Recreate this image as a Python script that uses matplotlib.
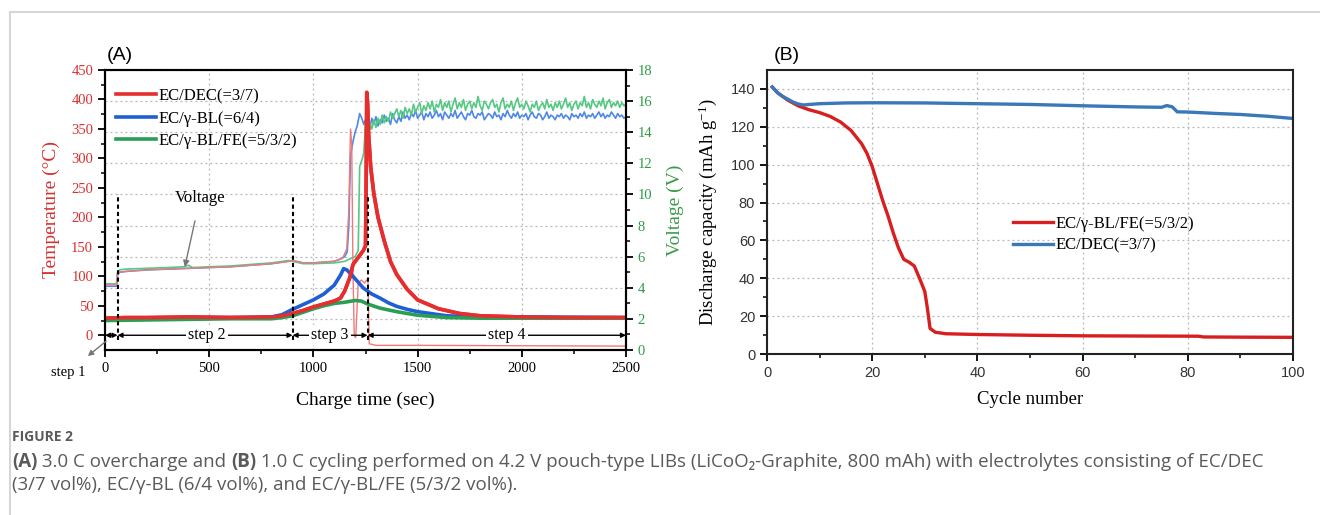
import matplotlib
matplotlib.use('Agg')
import matplotlib.pyplot as plt
from matplotlib.lines import Line2D
from matplotlib.ticker import MultipleLocator, FixedLocator

# ---- (A) overcharge: temperature (thick) and voltage (thin) vs charge time ----
t_red = [0, 100, 200, 400, 600, 800, 850, 900, 950, 1000, 1050, 1100, 1130, 1150,
         1175, 1190, 1215, 1240, 1250, 1253, 1256, 1260, 1265, 1275, 1290, 1310,
         1340, 1370, 1400, 1450, 1500, 1600, 1700, 1800, 2000, 2200, 2500]
temp_red = [29, 30, 30, 31, 30, 31, 33, 37, 42, 48, 53, 58, 63, 75,
            98, 120, 132, 144, 152, 250, 412, 395, 340, 285, 240, 200,
            160, 125, 103, 78, 60, 45, 37, 33, 31, 30, 30]

t_blue = [0, 200, 400, 600, 700, 800, 850, 900, 950, 1000, 1050, 1100, 1130, 1145,
          1160, 1180, 1200, 1240, 1280, 1320, 1360, 1400, 1450, 1500, 1640, 1800,
          2000, 2500]
temp_blue = [28, 29, 30, 30, 30, 31, 35, 44, 52, 60, 70, 85, 102, 113,
             111, 104, 96, 80, 70, 63, 55, 49, 44, 40, 33, 31,
             31, 30]

t_green = [0, 200, 400, 600, 800, 850, 900, 950, 1000, 1050, 1100, 1150, 1200,
           1230, 1260, 1320, 1400, 1500, 1640, 1800, 2500]
temp_green = [25, 26, 27, 28, 28, 30, 33, 39, 45, 50, 54, 56, 59,
              58, 53, 46, 40, 34, 30, 29, 29]

tv_red = [0, 55, 60, 70, 100, 200, 300, 400, 500, 600, 700, 800, 880, 900, 950,
          1000, 1100, 1140, 1160, 1170, 1178, 1184, 1190, 1196, 1203, 1215, 1230,
          1245, 1255, 1262, 1268, 1300, 1500, 2500]
volt_red = [4.2, 4.2, 4.9, 5.0, 5.05, 5.15, 5.2, 5.25, 5.3, 5.35, 5.45, 5.55, 5.7,
            5.75, 5.6, 5.6, 5.7, 5.9, 6.5, 9.0, 14.2, 13.2, 5.0, 0.9, 0.8, 4.3, 4.5,
            4.3, 4.5, 4.4, 0.4, 0.3, 0.3, 0.25]

tv_blue = [0, 55, 60, 70, 100, 200, 300, 400, 500, 600, 700, 800, 880, 900, 950,
           1000, 1050, 1100, 1130, 1150, 1162, 1170, 1178, 1190, 1200, 1210, 1222,
           1232, 1242, 1250]
volt_blue = [4.1, 4.1, 4.8, 5.0, 5.05, 5.15, 5.2, 5.25, 5.3, 5.35, 5.45, 5.55,
             5.7, 5.75, 5.6, 5.6, 5.65, 5.7, 5.85, 6.0, 6.3, 8.0, 12.5, 13.4, 14.0,
             14.4, 15.2, 14.9, 14.5, 14.8]

tv_green = [0, 55, 60, 70, 100, 200, 300, 380, 400, 420, 500, 600, 700, 800, 880,
            900, 950, 1000, 1100, 1150, 1200, 1215, 1222, 1235, 1242, 1250]
volt_green = [4.25, 4.25, 5.0, 5.15, 5.2, 5.25, 5.3, 5.35, 5.45, 5.3, 5.35, 5.4,
              5.5, 5.6, 5.75, 5.7, 5.55, 5.55, 5.6, 5.7, 6.0, 6.4, 11.8, 12.3,
              12.7, 14.5]

# voltage plateau after 1260 s, read every 10 s
volt_blue_tail = [
    14.6, 14.2, 14.9, 14.5, 15.0, 14.4, 14.8, 14.6, 15.1, 14.7,
    14.9, 14.5, 15.2, 14.8, 14.6, 15.0, 14.7, 15.3, 14.9, 15.1,
    14.8, 15.2, 15.0, 15.4, 14.9, 15.1, 15.3, 14.8, 15.2, 15.0,
    15.3, 14.9, 15.1, 15.4, 15.0, 15.2, 14.8, 15.3, 15.1, 14.9,
    15.2, 15.0, 15.4, 14.9, 15.1, 15.3, 15.0, 14.8, 15.2, 15.1,
    15.4, 15.0, 14.9, 15.2, 15.1, 15.3, 14.8, 15.0, 15.2, 15.1,
    14.9, 15.3, 15.0, 15.1, 14.8, 15.2, 15.0, 15.4, 15.1, 14.9,
    15.2, 15.0, 15.3, 14.9, 15.1, 15.0, 15.2, 14.8, 15.1, 15.3,
    15.0, 14.9, 15.2, 15.1, 14.8, 15.0, 15.3, 14.9, 15.1, 15.0,
    14.8, 15.1, 15.0, 15.2, 14.9, 15.1, 15.0, 14.8, 15.2, 15.0,
    15.1, 14.9, 15.2, 15.0, 15.3, 14.9, 15.1, 15.0, 15.2, 14.9,
    15.1, 15.3, 15.0, 15.2, 14.9, 15.1, 15.0, 15.3, 15.1, 14.9,
    15.2, 15.0, 15.1, 14.9, 15.0]
volt_green_tail = [
    14.0, 14.6, 14.2, 14.8, 14.3, 14.9, 14.5, 15.1, 14.6, 15.0,
    14.7, 15.3, 14.9, 15.2, 15.5, 15.0, 15.4, 14.9, 15.6, 15.2,
    15.5, 15.1, 15.8, 15.3, 15.6, 15.9, 15.2, 15.7, 15.4, 15.9,
    15.5, 16.0, 15.3, 15.8, 15.6, 16.1, 15.4, 15.9, 15.6, 16.0,
    15.3, 15.8, 16.2, 15.5, 15.9, 15.6, 16.1, 15.4, 15.8, 16.0,
    15.5, 15.9, 15.6, 16.3, 15.7, 15.4, 16.0, 15.8, 15.5, 15.9,
    16.1, 15.6, 15.8, 15.3, 15.9, 16.2, 15.5, 15.8, 15.6, 16.0,
    15.4, 15.9, 16.2, 15.6, 15.8, 15.5, 16.0, 15.7, 15.3, 15.8,
    15.6, 16.0, 15.4, 15.7, 15.9, 15.5, 16.1, 15.6, 15.8, 15.4,
    15.9, 15.6, 16.0, 15.5, 15.8, 16.2, 15.6, 15.9, 15.4, 15.8,
    16.0, 15.5, 15.9, 15.7, 16.3, 15.6, 15.9, 15.5, 16.1, 15.8,
    15.6, 16.0, 15.7, 16.2, 15.5, 15.9, 16.1, 15.6, 15.9, 15.7,
    16.0, 15.6, 15.9, 15.7, 15.8]
t_tail = list(range(1260, 2501, 10))

labels_a = ['EC/DEC(=3/7)', 'EC/\u03b3-BL(=6/4)', 'EC/\u03b3-BL/FE(=5/3/2)']
step_bounds = [0, 60, 900, 1260, 2500]
step_names = ['', 'step 2', 'step 3', 'step 4']
step_label_x = [None, 488, 1080, 1928]

# ---- (B) cycling ----
cyc_red = [1, 2, 3, 4, 5, 6, 7, 8, 10, 12, 14, 16, 18, 19, 20, 21, 22, 23, 24, 25,
           26, 27, 28, 29, 30, 30.5, 31, 32, 34, 40, 50, 60, 70, 82, 83, 90, 100]
cap_red = [141, 138, 136, 134, 132.5, 131, 130, 129, 127.5, 125.5, 122.5, 118, 111,
           106, 99, 90, 81, 73, 64, 56, 50, 48.5, 46.5, 40, 33, 24, 13.5, 11.5, 10.7,
           10.3, 9.9, 9.6, 9.5, 9.4, 9.0, 8.9, 8.8]
cyc_blue = [1, 2, 3, 4, 5, 6, 7, 8, 10, 15, 20, 30, 40, 50, 60, 70, 75, 76, 77, 78,
            80, 85, 90, 95, 100]
cap_blue = [141, 138, 136, 134.5, 133, 132, 131.5, 131.8, 132.2, 132.6, 132.7, 132.6,
            132.2, 131.8, 131.1, 130.5, 130.3, 131.2, 130.6, 127.9, 127.8, 127.1,
            126.5, 125.6, 124.4]
labels_b = ['EC/\u03b3-BL/FE(=5/3/2)', 'EC/DEC(=3/7)']

SERIF = 'Liberation Serif'
SANS = 'Liberation Sans'
RED, BLUE, GREEN = '#e62e2e', '#1f5fd6', '#2a9e55'
RED_T, BLUE_T, GREEN_T = '#f07a7a', '#4f88e6', '#55c884'

plt.rcParams['font.family'] = SERIF
plt.rcParams['mathtext.fontset'] = 'stix'

fig = plt.figure(figsize=(13.2, 5.15), dpi=100)
W, H = 1320.0, 515.0

# light frame around the figure panel
fig.add_artist(Line2D([10 / W, 1.0], [1 - 12 / H, 1 - 12 / H], color='#d6d6d6', lw=1.5))
fig.add_artist(Line2D([10 / W, 10 / W], [0.0, 1 - 12 / H], color='#d6d6d6', lw=1.5))

grid_kw = dict(color='#b5b5b5', linestyle=(0, (1.5, 2.5)), linewidth=0.9)

# ---------------- panel A ----------------
ax = fig.add_axes([105 / W, 1 - 350 / H, 521 / W, 280 / H])
ax2 = ax.twinx()
ax.set_zorder(ax2.get_zorder() + 1)
ax.patch.set_visible(False)

ax2.plot(tv_blue + t_tail, volt_blue + volt_blue_tail, color=BLUE_T, lw=1.2)
ax2.plot(tv_green + t_tail, volt_green + volt_green_tail, color=GREEN_T, lw=1.2)
ax2.plot(tv_red, volt_red, color=RED_T, lw=1.0)

la, = ax.plot(t_red, temp_red, color=RED, lw=2.6, label=labels_a[0])
lb, = ax.plot(t_blue, temp_blue, color=BLUE, lw=2.6, label=labels_a[1])
lc, = ax.plot(t_green, temp_green, color=GREEN, lw=2.6, label=labels_a[2])
ax.plot(t_red, temp_red, color=RED, lw=2.6)

ax.set_xlim(0, 2500)
ax.set_ylim(-25, 450)
ax2.set_ylim(0, 18)
ax.xaxis.set_major_locator(MultipleLocator(500))
ax.xaxis.set_minor_locator(FixedLocator([250, 750, 1250, 1750, 2250]))
ax.yaxis.set_major_locator(FixedLocator(list(range(0, 451, 50))))
ax.yaxis.set_minor_locator(FixedLocator(list(range(25, 450, 50))))
ax2.yaxis.set_major_locator(MultipleLocator(2))
ax2.yaxis.set_minor_locator(MultipleLocator(1))

ax.grid(axis='x', **grid_kw)
ax2.grid(axis='y', **grid_kw)
ax.set_axisbelow(True)

for a in (ax, ax2):
    for s in a.spines.values():
        s.set_linewidth(1.5)
ax.tick_params(which='major', direction='out', length=5, width=1.3, labelsize=10.5)
ax.tick_params(which='minor', direction='out', length=3, width=1.1)
ax.tick_params(axis='y', labelcolor='#d83030')
ax2.tick_params(which='major', direction='out', length=5, width=1.3, labelsize=10.5,
                labelcolor='#2e9a48')
ax2.tick_params(which='minor', direction='out', length=3, width=1.1)

ax.set_xlabel('Charge time (sec)', fontsize=14, labelpad=12)
ax.set_ylabel('Temperature (\u00b0C)', fontsize=14, color='#d83030', labelpad=8)
ax2.set_ylabel('Voltage (V)', fontsize=14, color='#3a9a4a', labelpad=10)

ax.legend(handles=[la, lb, lc], loc='upper left', bbox_to_anchor=(0.022, 0.935),
          frameon=False, fontsize=12, handlelength=2.4, handletextpad=0.15,
          labelspacing=0.38, borderpad=0, borderaxespad=0)

# step markers along the 0 degC line
for xb in step_bounds[1:4]:
    ax.plot([xb, xb], [-8, 240], color='black', lw=1.5, linestyle=(0, (2, 1.5)))
for i in range(4):
    x0, x1 = step_bounds[i], step_bounds[i + 1]
    ax.annotate('', xy=(x0, 0), xytext=(x1, 0),
                arrowprops=dict(arrowstyle='<|-|>', color='black', lw=1.0,
                                mutation_scale=7, shrinkA=0, shrinkB=0))
    if step_names[i]:
        ax.text(step_label_x[i], 0, step_names[i], fontsize=11.5,
                ha='center', va='center',
                bbox=dict(facecolor='white', edgecolor='none', pad=1.5))
ax.annotate('step 1', xy=(5, -10), xytext=(-178, -63), fontsize=10.5,
            ha='center', va='center', annotation_clip=False,
            arrowprops=dict(arrowstyle='<|-', color='#777777', lw=1.0,
                            mutation_scale=8, shrinkA=8, shrinkB=0))
ax.annotate('Voltage', xy=(383, 116), xytext=(456, 233), fontsize=12,
            ha='center', va='center',
            arrowprops=dict(arrowstyle='-|>', color='#777777', lw=1.0,
                            mutation_scale=9, shrinkA=9, shrinkB=0))

fig.text(107 / W, 1 - 55 / H, '(A)', family=SANS, fontsize=14, ha='left', va='center')

# ---------------- panel B ----------------
bx = fig.add_axes([767 / W, 1 - 354 / H, 526 / W, 284 / H])
br, = bx.plot(cyc_red, cap_red, color='#d81e1e', lw=2.4, label=labels_b[0])
bb, = bx.plot(cyc_blue, cap_blue, color='#3b78b8', lw=2.4, label=labels_b[1])
bx.set_xlim(0, 100)
bx.set_ylim(0, 150)
bx.xaxis.set_major_locator(MultipleLocator(20))
bx.xaxis.set_minor_locator(MultipleLocator(10))
bx.yaxis.set_major_locator(FixedLocator(list(range(0, 141, 20))))
bx.yaxis.set_minor_locator(FixedLocator(list(range(10, 150, 20))))
bx.grid(which='major', **grid_kw)
bx.set_axisbelow(True)
for s in bx.spines.values():
    s.set_linewidth(1.5)
    s.set_color('#222222')
bx.tick_params(which='major', direction='out', length=5, width=1.3, labelsize=10.5,
               labelcolor='#333333')
bx.tick_params(which='minor', direction='out', length=3, width=1.1)
for lab in bx.get_xticklabels() + bx.get_yticklabels():
    lab.set_family(SANS)
bx.set_xlabel('Cycle number', fontsize=13.5, labelpad=8)
bx.set_ylabel('Discharge capacity (mAh g$\\mathregular{^{-1}}$)', fontsize=13.5, labelpad=8)
bx.legend(handles=[br, bb], loc='upper left', bbox_to_anchor=(0.468, 0.485),
          frameon=False, fontsize=12, handlelength=2.4, handletextpad=0.15,
          labelspacing=0.33, borderpad=0, borderaxespad=0)

fig.text(774 / W, 1 - 55 / H, '(B)', family=SANS, fontsize=14, ha='left', va='center')

# ---------------- caption ----------------
renderer = fig.canvas.get_renderer()
cap_kw = dict(family=['Open Sans', 'DejaVu Sans'], color='#5a5a5a', va='center', ha='left')


def put_runs(x_px, y_px, runs, size):
    x = x_px / W
    for text, weight in runs:
        t = fig.text(x, 1 - y_px / H, text, fontsize=size, fontweight=weight, **cap_kw)
        x = t.get_window_extent(renderer=renderer).x1 / fig.bbox.width


fig.text(12 / W, 1 - 437 / H, 'FIGURE 2', fontsize=10, fontweight='bold', **cap_kw)
put_runs(12, 462, [('(A)', 'bold'),
                   (' 3.0 C overcharge and ', 'normal'),
                   ('(B)', 'bold'),
                   (' 1.0 C cycling performed on 4.2 V pouch-type LIBs (LiCoO\u2082-Graphite, '
                    '800 mAh) with electrolytes consisting of EC/DEC', 'normal')], 13.5)
put_runs(12, 485, [('(3/7 vol%), EC/\u03b3-BL (6/4 vol%), and EC/\u03b3-BL/FE (5/3/2 vol%).',
                    'normal')], 13.5)

fig.savefig('out.png', dpi=100)
